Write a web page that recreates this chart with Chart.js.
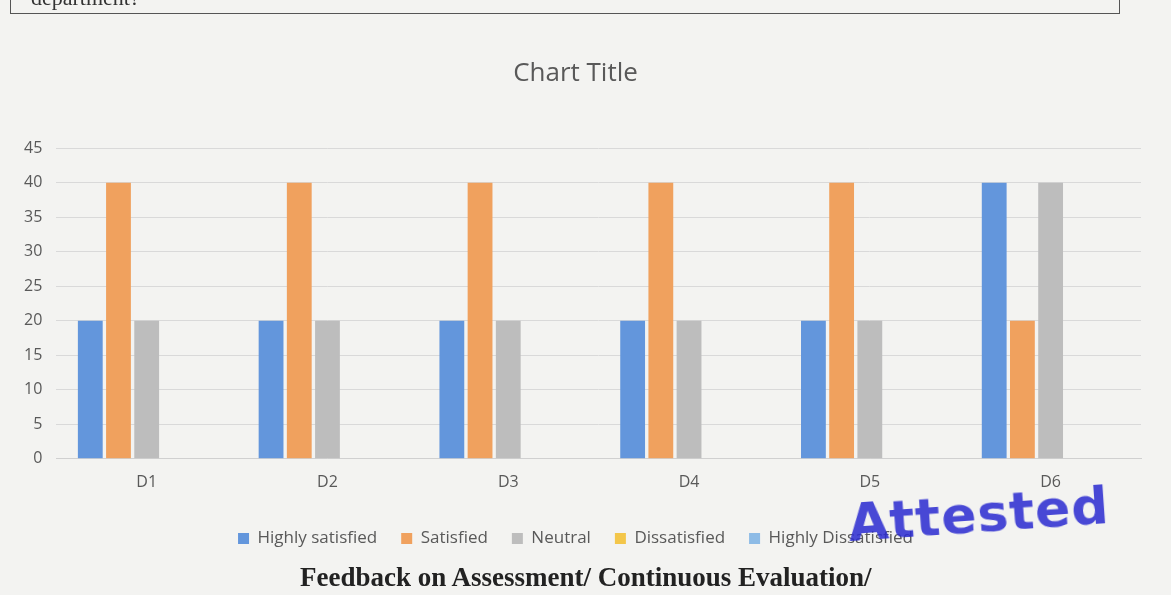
<!DOCTYPE html>
<html>
<head>
<meta charset="utf-8">
<script src="https://cdn.jsdelivr.net/npm/chart.js@4.4.1/dist/chart.umd.min.js"></script>
<style>
  html,body{margin:0;padding:0;background:#f3f3f1;}
  #wrap{position:relative;width:1171px;height:595px;overflow:hidden;background:#f3f3f1;}
  canvas{position:absolute;left:0;top:0;}
  .hdr{position:absolute;left:10px;top:-14px;width:1110px;height:28px;border:1px solid #555;border-top:none;
       font-family:"Liberation Serif",serif;font-size:22px;color:#333;padding-left:20px;box-sizing:border-box;line-height:24px;}
  .foot{position:absolute;left:300px;top:562px;font-family:"Liberation Serif",serif;font-weight:bold;font-size:27px;color:#222;}
  .stamp{position:absolute;left:848px;top:484px;font-family:"DejaVu Sans",sans-serif;font-weight:bold;font-size:52px;color:#2a2ad0;opacity:0.85;letter-spacing:1px;transform:rotate(-4deg);}
</style>
</head>
<body>
<div id="wrap">
  <canvas id="c" width="1171" height="595"></canvas>
  <div class="hdr">department?</div>
  <div class="stamp">Attested</div>
  <div class="foot">Feedback on Assessment/ Continuous Evaluation/</div>
</div>
<script>
const categories = ["D1","D2","D3","D4","D5","D6"];
const highlySatisfied = [20, 20, 20, 20, 20, 40];
const satisfied = [40, 40, 40, 40, 40, 20];
const neutral = [20, 20, 20, 20, 20, 40];
const dissatisfied = [0, 0, 0, 0, 0, 0];
const highlyDissatisfied = [0, 0, 0, 0, 0, 0];
const yTicks = [0,5,10,15,20,25,30,35,40,45];

const seriesNames = ["Highly satisfied","Satisfied","Neutral","Dissatisfied","Highly Dissatisfied"];
const seriesData = [highlySatisfied, satisfied, neutral, dissatisfied, highlyDissatisfied];
const colors = ["#6396dc","#f0a15e","#bdbdbd","#f3c64a","#8dbbe6"];

new Chart(document.getElementById("c"), {
  type: "bar",
  data: {
    labels: categories,
    datasets: seriesNames.map((n,i)=>({
      label: n, data: seriesData[i], backgroundColor: colors[i], borderWidth: 0,
      barPercentage: 0.88, categoryPercentage: 0.78
    }))
  },
  options: {
    responsive: false,
    animation: false,
    layout: { padding: { left: 10, right: 30, top: 58, bottom: 38 } },
    plugins: {
      title: { display: true, text: "Chart Title", color: "#595959",
               font: { family: "'Open Sans', sans-serif", size: 26, weight: "normal" }, padding: { top: 0, bottom: 59 } },
      legend: { position: "bottom", labels: { boxWidth: 11, boxHeight: 11, color: "#595959", padding: 24,
               font: { family: "'Open Sans', sans-serif", size: 17 } } },
      tooltip: { enabled: false }
    },
    scales: {
      x: { grid: { display: false, drawTicks: false }, border: { display: true, color: "#d0d0d0" },
           ticks: { color: "#595959", padding: 14, font: { family: "'Open Sans', sans-serif", size: 16 } } },
      y: { min: 0, max: 45, afterBuildTicks: ax => { ax.ticks = yTicks.map(v=>({value:v})); },
           grid: { color: "#d9d9d9", drawTicks: false }, border: { display: false },
           ticks: { color: "#595959", padding: 14, font: { family: "'Open Sans', sans-serif", size: 16 } } }
    }
  }
});
</script>
</body>
</html>
